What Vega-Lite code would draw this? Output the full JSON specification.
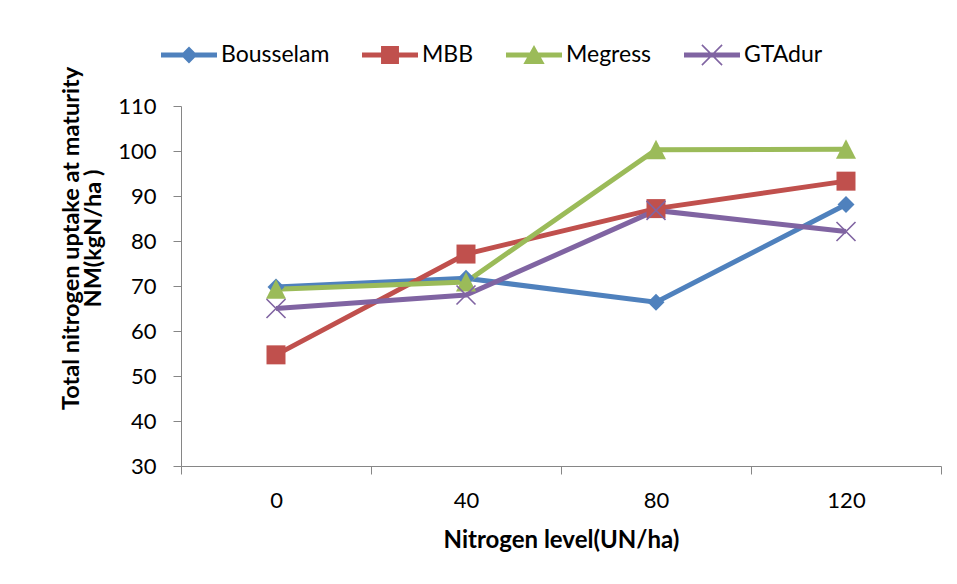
{
  "$schema": "https://vega.github.io/schema/vega-lite/v6.json",
  "width": 760,
  "height": 360,
  "autosize": {"type": "none"},
  "padding": {"left": 181, "top": 106, "right": 16, "bottom": 118},
  "background": "white",
  "config": {
    "view": {"stroke": null},
    "font": "Lato",
    "axis": {
      "domainColor": "#868686",
      "tickColor": "#868686",
      "grid": false,
      "labelColor": "#000000",
      "titleColor": "#000000",
      "labelFont": "Lato",
      "titleFont": "Lato"
    }
  },
  "data": {
    "values": [
      {"n": 0, "series": "Bousselam", "v": 69.8},
      {"n": 40, "series": "Bousselam", "v": 71.7},
      {"n": 80, "series": "Bousselam", "v": 66.4},
      {"n": 120, "series": "Bousselam", "v": 88.1},
      {"n": 0, "series": "MBB", "v": 54.7},
      {"n": 40, "series": "MBB", "v": 77.1},
      {"n": 80, "series": "MBB", "v": 87.2},
      {"n": 120, "series": "MBB", "v": 93.3},
      {"n": 0, "series": "Megress", "v": 69.3},
      {"n": 40, "series": "Megress", "v": 70.9},
      {"n": 80, "series": "Megress", "v": 100.3},
      {"n": 120, "series": "Megress", "v": 100.4},
      {"n": 0, "series": "GTAdur", "v": 65.0},
      {"n": 40, "series": "GTAdur", "v": 68.0},
      {"n": 80, "series": "GTAdur", "v": 86.8},
      {"n": 120, "series": "GTAdur", "v": 82.1}
    ]
  },
  "encoding": {
    "x": {
      "field": "n",
      "type": "ordinal",
      "sort": [0, 40, 80, 120],
      "scale": {"paddingInner": 0, "paddingOuter": 0},
      "axis": {
        "labelAngle": 0,
        "labelFontSize": 22,
        "tickSize": 8,
        "tickBand": "extent",
        "labelPadding": 16,
        "title": "Nitrogen level(UN/ha)",
        "titleFontSize": 24,
        "titleFontWeight": "bold",
        "titlePadding": 17
      }
    },
    "y": {
      "field": "v",
      "type": "quantitative",
      "scale": {"domain": [30, 110], "nice": false, "zero": false},
      "axis": {
        "values": [30, 40, 50, 60, 70, 80, 90, 100, 110],
        "tickSize": 8,
        "labelFontSize": 22,
        "labelPadding": 17,
        "title": ["Total nitrogen uptake at maturity", "NM(kgN/ha )\u00a0\u00a0\u00a0\u00a0\u00a0\u00a0"],
        "titleFontSize": 23.5,
        "titleFontWeight": "bold",
        "titleAngle": -90,
        "titleAlign": "center",
        "titleBaseline": "middle",
        "titleLineHeight": 22,
        "titleX": -110,
        "titleY": 132
      }
    },
    "color": {
      "field": "series",
      "type": "nominal",
      "scale": {
        "domain": ["Bousselam", "MBB", "Megress", "GTAdur"],
        "range": ["#4F81BD", "#C0504D", "#9BBB59", "#8064A2"]
      },
      "legend": null
    }
  },
  "layer": [
    {
      "mark": {"type": "line", "strokeWidth": 5},
      "encoding": {}
    },
    {
      "mark": {"type": "point", "filled": true, "size": 400, "opacity": 1},
      "encoding": {
        "shape": {
          "field": "series",
          "type": "nominal",
          "scale": {
            "domain": ["Bousselam", "MBB", "Megress", "GTAdur"],
            "range": [
              "M0,-0.85L0.85,0L0,0.85L-0.85,0Z",
              "M-0.95,-0.95H0.95V0.95H-0.95Z",
              "M0,-1L1,0.95H-1Z",
              "M-0.893,-1.007L1.007,0.893L0.893,1.007L-1.007,-0.893ZM-1.007,0.893L0.893,-1.007L1.007,-0.893L-0.893,1.007Z"
            ]
          },
          "legend": null
        }
      }
    },
    {
      "mark": {"type": "point", "filled": true, "size": 400, "opacity": 0},
      "encoding": {
        "color": {
          "field": "series",
          "type": "nominal",
          "scale": {
            "domain": ["Bousselam", "MBB", "Megress", "GTAdur"],
            "range": ["#4F81BD", "#C0504D", "#9BBB59", "#8064A2"]
          },
          "legend": {
            "orient": "none",
            "legendX": -20,
            "legendY": -79,
            "direction": "horizontal",
            "title": null,
            "symbolSize": 3136,
            "symbolOpacity": 1,
            "symbolStrokeWidth": 0,
            "labelFontSize": 23,
            "labelFont": "Lato",
            "labelColor": "#000000",
            "labelOffset": 4,
            "columnPadding": 32
          }
        },
        "shape": {
          "field": "series",
          "type": "nominal",
          "scale": {
            "domain": ["Bousselam", "MBB", "Megress", "GTAdur"],
            "range": [
              "M-1,-0.09H1V0.09H-1ZM0,-0.3L0.3,0L0,0.3L-0.3,0Z",
              "M-1,-0.09H1V0.09H-1ZM-0.32,-0.32H0.32V0.32H-0.32Z",
              "M-1,-0.09H1V0.09H-1ZM0,-0.36L0.38,0.32H-0.38Z",
              "M-1,-0.09H1V0.09H-1ZM-0.34,-0.38L0.38,0.34L0.34,0.38L-0.38,-0.34ZM-0.38,0.34L0.34,-0.38L0.38,-0.34L-0.34,0.38Z"
            ]
          },
          "legend": {
            "orient": "none",
            "legendX": -20,
            "legendY": -79,
            "direction": "horizontal",
            "title": null,
            "symbolSize": 3136,
            "symbolOpacity": 1,
            "symbolStrokeWidth": 0,
            "labelFontSize": 23,
            "labelFont": "Lato",
            "labelColor": "#000000",
            "labelOffset": 4,
            "columnPadding": 32
          }
        }
      }
    }
  ],
  "resolve": {
    "scale": {"shape": "independent"},
    "legend": {"color": "independent", "shape": "independent"}
  }
}
